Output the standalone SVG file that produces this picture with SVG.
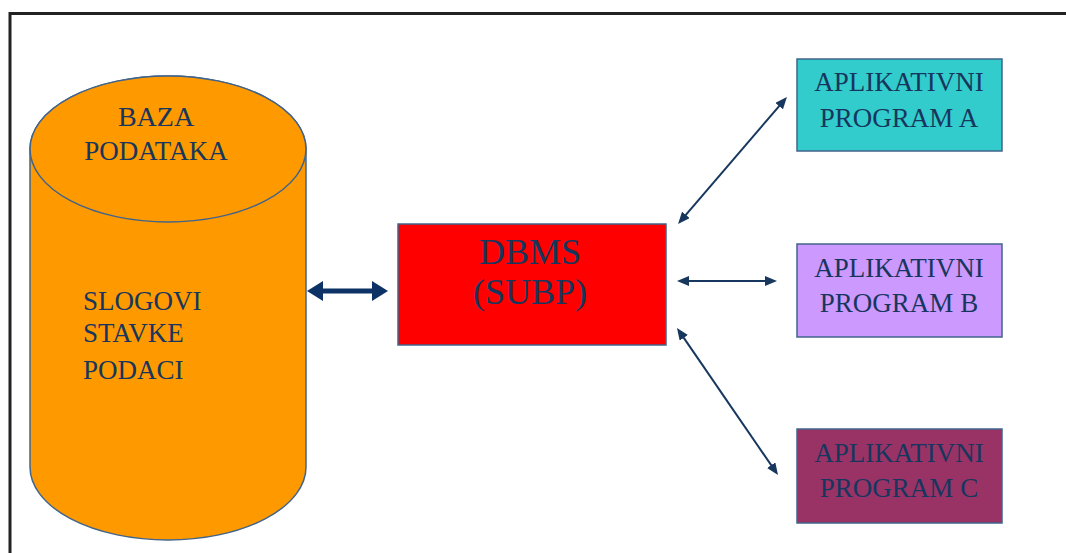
<svg xmlns="http://www.w3.org/2000/svg" width="1066" height="553" viewBox="0 0 1066 553">
<defs>
<style>
.t{font-family:"Liberation Serif","Times New Roman",serif;fill:#17365D;}
.box{stroke:#41648A;stroke-width:1.5;}
.thin{stroke:#17375E;stroke-width:2;fill:none;marker-start:url(#hs);marker-end:url(#he);}
.thick{stroke:#0D3366;stroke-width:5;fill:none;marker-start:url(#Hs);marker-end:url(#He);}
</style>
<marker id="he" markerUnits="userSpaceOnUse" viewBox="0 0 12 10" refX="3" refY="5" markerWidth="12" markerHeight="10" orient="auto"><path d="M0,0 L12,5 L0,10 z" fill="#17375E"/></marker>
<marker id="hs" markerUnits="userSpaceOnUse" viewBox="0 0 12 10" refX="9" refY="5" markerWidth="12" markerHeight="10" orient="auto"><path d="M12,0 L0,5 L12,10 z" fill="#17375E"/></marker>
<marker id="He" markerUnits="userSpaceOnUse" viewBox="0 0 16 20" refX="4" refY="10" markerWidth="16" markerHeight="20" orient="auto"><path d="M0,0 L16,10 L0,20 z" fill="#0D3366"/></marker>
<marker id="Hs" markerUnits="userSpaceOnUse" viewBox="0 0 16 20" refX="12" refY="10" markerWidth="16" markerHeight="20" orient="auto"><path d="M16,0 L0,10 L16,20 z" fill="#0D3366"/></marker>
</defs>
<rect width="1066" height="553" fill="#fff"/>
<path d="M10,560 L10,13.5 L1070,13.5" fill="none" stroke="#222" stroke-width="3"/>
<g id="cylinder">
<path class="box" d="M30,149 L30,467 A138,73 0 0 0 306,467 L306,149 A138,73 0 0 0 30,149 z" fill="#FF9900"/>
<ellipse class="box" cx="168" cy="149" rx="138" ry="73" fill="#FF9900"/>
<text class="t" font-size="28" x="156" y="126" text-anchor="middle">BAZA</text>
<text class="t" font-size="27" x="156" y="160" text-anchor="middle">PODATAKA</text>
<text class="t" font-size="27" x="83" y="310">SLOGOVI</text>
<text class="t" font-size="27" x="83" y="342">STAVKE</text>
<text class="t" font-size="27" x="83" y="379">PODACI</text>
</g>
<g id="dbms">
<rect class="box" x="398" y="224" width="268" height="121" fill="#FF0000"/>
<text class="t" font-size="36" x="530" y="264" text-anchor="middle">DBMS</text>
<text class="t" font-size="36" x="530" y="304" text-anchor="middle">(SUBP)</text>
</g>
<g id="appA">
<rect class="box" x="797" y="59" width="205" height="92" fill="#33CCCC"/>
<text class="t" font-size="27" x="899" y="91" text-anchor="middle">APLIKATIVNI</text>
<text class="t" font-size="27" x="899" y="127" text-anchor="middle">PROGRAM A</text>
</g>
<g id="appB">
<rect class="box" x="797" y="244" width="205" height="93" fill="#CC99FF"/>
<text class="t" font-size="27" x="899" y="277" text-anchor="middle">APLIKATIVNI</text>
<text class="t" font-size="27" x="899" y="312" text-anchor="middle">PROGRAM B</text>
</g>
<g id="appC">
<rect class="box" x="797" y="429" width="205" height="94" fill="#993366"/>
<text class="t" font-size="27" x="899" y="462" text-anchor="middle">APLIKATIVNI</text>
<text class="t" font-size="27" x="899" y="497" text-anchor="middle">PROGRAM C</text>
</g>
<g id="connectors">
<line class="thick" x1="319" y1="291" x2="376" y2="291"/>
<line class="thin" x1="683.9" y1="217.2" x2="781.1" y2="103.8"/>
<line class="thin" x1="686" y1="281" x2="768" y2="281"/>
<line class="thin" x1="682.1" y1="335.4" x2="772.9" y2="467.6"/>
</g>
</svg>
